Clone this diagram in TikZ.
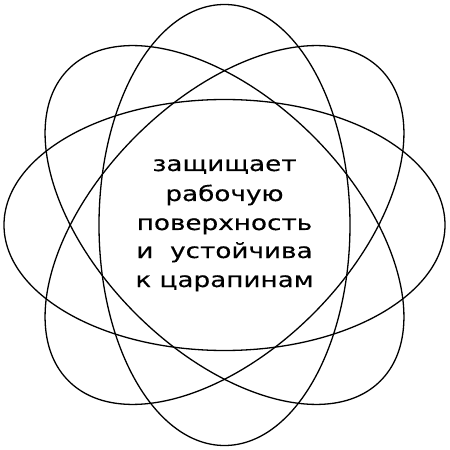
\documentclass[tikz,border=0pt]{standalone}
\usepackage{fontspec}
\newfontfamily\txtfont[FakeStretch=1.25,FakeBold=0.3]{DejaVu Sans}
\begin{document}
\begin{tikzpicture}[x=1pt,y=1pt,
  orbit/.style={draw=black,line width=1.3pt},
  txt/.style={anchor=base,inner sep=0pt,font=\txtfont\fontsize{21}{25}\selectfont}]
\useasboundingbox (-224.5,-225) rectangle (225.5,225);
\foreach \a in {0,45,90,135}
  \draw[orbit,rotate=\a] (0,0) ellipse [x radius=220.5, y radius=125.5];
\node[txt] (l1) at (0,54) {защищает};
\node[txt] (l2) at (0,24) {рабочую};
\node[txt] (l3) at (0,-5) {поверхность};
\node[txt] (l4) at (0,-33) {и\ \ устойчива};
\node[txt] (l5) at (0,-62) {к царапинам};
\end{tikzpicture}
\end{document}
